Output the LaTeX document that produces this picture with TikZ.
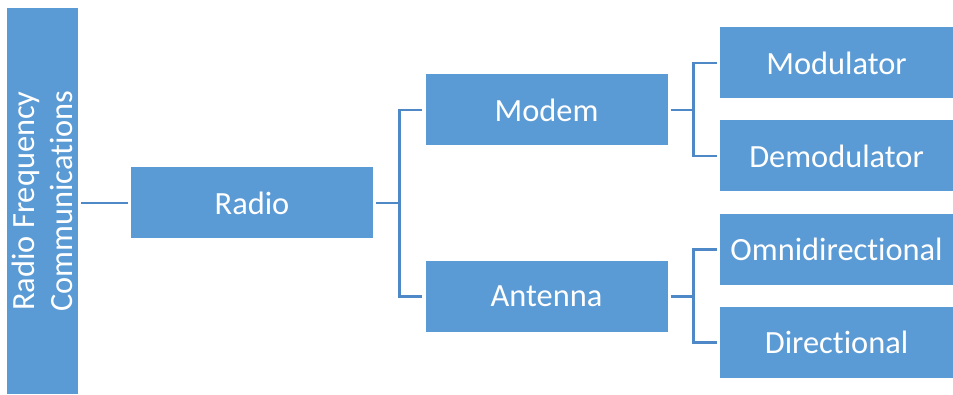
\documentclass[tikz,border=0pt]{standalone}
\usepackage{fontspec}
\setmainfont{Carlito}[Ligatures={NoCommon}]
\usepackage{tikz}
\usetikzlibrary{positioning}

\definecolor{boxblue}{RGB}{91,155,213}
\definecolor{lineblue}{RGB}{78,136,198}

\begin{document}
\begin{tikzpicture}
  [
    x = 0.75pt, y = -0.75pt,
    node distance = 69.75pt and 39pt,
    node/.style = {fill=boxblue, text=white, inner sep = 0pt, align = center,
                  font = \fontsize{24.3}{28}\selectfont},
    wide/.style = {node, minimum width = 181.5pt, minimum height = 53.25pt},
    leaf/.style = {node, minimum width = 174.75pt, minimum height = 53.25pt},
    tall/.style = {node, minimum width = 289.5pt, minimum height = 53.25pt, rotate = 90},
    link/.style = {draw=lineblue, line width = 2.1pt},
  ]
  \useasboundingbox (0,0) rectangle (953,395);

  \node[tall] (rf) at (42.5,201) {Radio Frequency\\Communications};
  \node[wide] (radio) at (252,203) {Radio};

  \node[wide] [above right = of radio.east, anchor = west] (modem) {Modem};
  \node[wide] [below right = of radio.east, anchor = west, yshift = -0.25pt] (antenna) {Antenna};

  \node[leaf] [right = of modem, yshift = 35.25pt] (modulator) {Modulator};
  \node[leaf] [right = of modem, yshift = -34.5pt] (demodulator) {Demodulator};
  \node[leaf] [right = of antenna, yshift = 35.25pt] (omni) {Omnidirectional};
  \node[leaf] [right = of antenna, yshift = -34.5pt] (directional) {Directional};

  % connectors
  \draw[link, shorten <= 2.25pt, shorten >= 2.25pt] (rf.south |- radio.west) -- (radio.west);

  \draw[link, shorten <= 2.25pt] (radio.east) -- ++(19.5pt,0) coordinate (radio-j);
  \draw[link, shorten <= 2.25pt, shorten >= 2.25pt] (modem.west) -| (radio-j) |- (antenna.west);

  \draw[link, shorten <= 2.25pt] (modem.east) -- ++(19.5pt,0) coordinate (modem-j);
  \draw[link, shorten <= 2.25pt, shorten >= 2.25pt] (modulator.west) -| (modem-j) |- (demodulator.west);

  \draw[link, shorten <= 2.25pt] (antenna.east) -- ++(19.5pt,0) coordinate (antenna-j);
  \draw[link, shorten <= 2.25pt, shorten >= 2.25pt] (omni.west) -| (antenna-j) |- (directional.west);
\end{tikzpicture}
\end{document}
